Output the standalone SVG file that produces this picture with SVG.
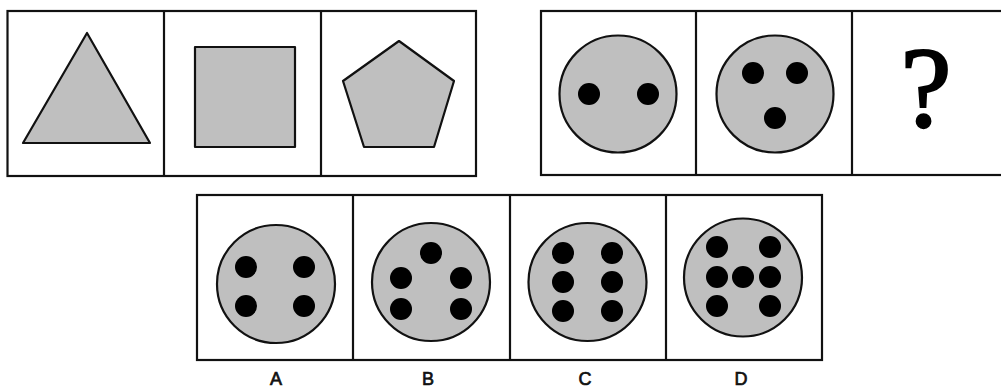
<svg xmlns="http://www.w3.org/2000/svg" width="1001" height="390" viewBox="0 0 1001 390">
<style>
.frame{fill:#fff;stroke:#111;stroke-width:2.2}
.shape{fill:#bfbfbf;stroke:#111;stroke-width:2.2;stroke-linejoin:round}
.dot{fill:#000}
.lbl{font-family:"Liberation Sans",Arial,sans-serif;font-size:18px;fill:#111;stroke:#111;stroke-width:0.7;text-anchor:middle}
.q{font-family:"Liberation Serif","Times New Roman",serif;font-size:114px;fill:#000;stroke:#000;stroke-width:2.4;text-anchor:middle}
</style>
<rect width="1001" height="390" fill="#fff"/>
<g id="row1-left">
  <rect class="frame" x="7.5" y="11" width="468.5" height="165"/>
  <line x1="164" y1="11" x2="164" y2="176" stroke="#111" stroke-width="2.2"/>
  <line x1="321" y1="11" x2="321" y2="176" stroke="#111" stroke-width="2.2"/>
  <g id="triangle"><polygon class="shape" points="87,33 23,143 150,143"/></g>
  <g id="square"><rect class="shape" x="195" y="47" width="100" height="100"/></g>
  <g id="pentagon"><polygon class="shape" points="399,41 454,81 434,147 364,147 343,81"/></g>
</g>
<g id="row1-right">
  <rect class="frame" x="541" y="11" width="465" height="164"/>
  <line x1="696" y1="11" x2="696" y2="175" stroke="#111" stroke-width="2.2"/>
  <line x1="852" y1="11" x2="852" y2="175" stroke="#111" stroke-width="2.2"/>
  <g id="circle-2">
    <circle class="shape" cx="618" cy="94" r="58.5"/>
    <circle class="dot" cx="589" cy="94" r="11"/>
    <circle class="dot" cx="648" cy="94" r="11"/>
  </g>
  <g id="circle-3">
    <circle class="shape" cx="775" cy="94" r="58.5"/>
    <circle class="dot" cx="753" cy="73" r="11"/>
    <circle class="dot" cx="797" cy="73" r="11"/>
    <circle class="dot" cx="775" cy="118" r="11"/>
  </g>
  <g id="question"><text class="q" x="926" y="126">?</text></g>
</g>
<g id="options">
  <rect class="frame" x="197" y="195" width="625" height="165"/>
  <line x1="353" y1="195" x2="353" y2="360" stroke="#111" stroke-width="2.2"/>
  <line x1="510" y1="195" x2="510" y2="360" stroke="#111" stroke-width="2.2"/>
  <line x1="666" y1="195" x2="666" y2="360" stroke="#111" stroke-width="2.2"/>
  <g id="option-A">
    <circle class="shape" cx="276" cy="284" r="59"/>
    <circle class="dot" cx="246" cy="267" r="11"/>
    <circle class="dot" cx="304" cy="267" r="11"/>
    <circle class="dot" cx="246" cy="306" r="11"/>
    <circle class="dot" cx="304" cy="306" r="11"/>
    <text class="lbl" x="276" y="385">A</text>
  </g>
  <g id="option-B">
    <circle class="shape" cx="431" cy="282" r="59"/>
    <circle class="dot" cx="431" cy="253" r="11"/>
    <circle class="dot" cx="401" cy="278" r="11"/>
    <circle class="dot" cx="461" cy="278" r="11"/>
    <circle class="dot" cx="401" cy="309" r="11"/>
    <circle class="dot" cx="461" cy="309" r="11"/>
    <text class="lbl" x="428" y="385">B</text>
  </g>
  <g id="option-C">
    <circle class="shape" cx="587.5" cy="282" r="59"/>
    <circle class="dot" cx="563" cy="253" r="11"/>
    <circle class="dot" cx="612" cy="253" r="11"/>
    <circle class="dot" cx="563" cy="282" r="11"/>
    <circle class="dot" cx="612" cy="282" r="11"/>
    <circle class="dot" cx="563" cy="311" r="11"/>
    <circle class="dot" cx="612" cy="311" r="11"/>
    <text class="lbl" x="585" y="385">C</text>
  </g>
  <g id="option-D">
    <circle class="shape" cx="743" cy="277.5" r="59"/>
    <circle class="dot" cx="717" cy="247" r="11"/>
    <circle class="dot" cx="770" cy="247" r="11"/>
    <circle class="dot" cx="717" cy="277" r="11"/>
    <circle class="dot" cx="743" cy="277" r="11"/>
    <circle class="dot" cx="770" cy="277" r="11"/>
    <circle class="dot" cx="717" cy="306" r="11"/>
    <circle class="dot" cx="770" cy="306" r="11"/>
    <text class="lbl" x="741" y="385">D</text>
  </g>
</g>
</svg>
